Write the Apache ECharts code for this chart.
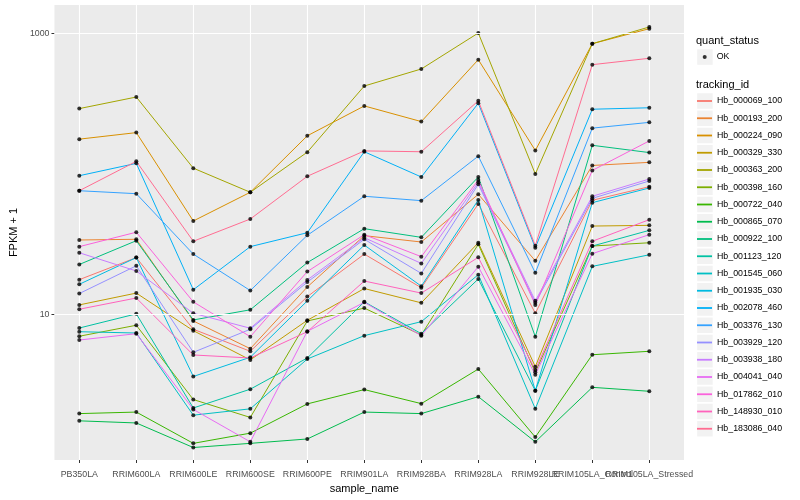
<!DOCTYPE html>
<html><head><meta charset="utf-8">
<script src="https://cdn.jsdelivr.net/npm/echarts@6/dist/echarts.min.js"></script>
<style>html,body{margin:0;padding:0;background:#fff}#c{width:800px;height:500px}</style>
</head><body><div id="c"></div>
<script>
const categories = ['PB350LA','RRIM600LA','RRIM600LE','RRIM600SE','RRIM600PE','RRIM901LA','RRIM928BA','RRIM928LA','RRIM928LE','RRIM105LA_Control','RRIM105LA_Stressed'];
const yTickValues = [10, 1000];
const trackingIds = ['Hb_000069_100','Hb_000193_200','Hb_000224_090','Hb_000329_330','Hb_000363_200','Hb_000398_160','Hb_000722_040','Hb_000865_070','Hb_000922_100','Hb_001123_120','Hb_001545_060','Hb_001935_030','Hb_002078_460','Hb_003376_130','Hb_003929_120','Hb_003938_180','Hb_004041_040','Hb_017862_010','Hb_148930_010','Hb_183086_040'];

const v000069_100 = [17.7, 25.4, 7.85, 5.47, 13.4, 26.9, 15.5, 61.2, 10.2, 65.0, 81.2];
const v000193_200 = [33.9, 34.3, 8.99, 5.71, 15.7, 36.4, 32.8, 71.7, 24.1, 115, 121];
const v000224_090 = [177, 197, 46.3, 74.1, 187, 305, 236, 651, 147, 846, 1082];
const v000329_330 = [11.7, 14.2, 7.67, 4.75, 9.09, 15.3, 12.1, 32.4, 4.25, 42.6, 43.1];
const v000363_200 = [292, 353, 110, 74.1, 143, 423, 559, 1008, 100, 846, 1113];
const v000398_160 = [7.00, 8.38, 2.48, 1.85, 8.99, 11.1, 7.15, 31.6, 3.88, 30.7, 32.4];
const v000722_040 = [1.97, 2.02, 1.21, 1.43, 2.31, 2.92, 2.32, 4.09, 1.34, 5.17, 5.47];
const v000865_070 = [1.75, 1.69, 1.13, 1.21, 1.30, 2.02, 1.97, 2.60, 1.24, 3.03, 2.84];
const v000922_100 = [22.7, 33.5, 9.14, 10.8, 23.4, 40.8, 35.4, 95.2, 6.95, 160, 142];
const v001123_120 = [8.01, 10.1, 2.16, 2.94, 4.90, 12.3, 7.30, 17.9, 2.87, 30.7, 39.7];
const v001545_060 = [7.54, 7.38, 1.92, 2.13, 4.82, 7.07, 8.89, 19.2, 2.13, 22.0, 26.6];
const v001935_030 = [16.4, 25.4, 3.62, 4.96, 12.5, 31.2, 15.9, 65.3, 2.87, 62.5, 79.5];
const v002078_460 = [97.2, 119, 15.0, 30.4, 38.2, 144, 95.2, 319, 29.9, 289, 296];
const v003376_130 = [76.0, 72.4, 26.9, 14.8, 36.6, 69.4, 64.6, 134, 19.8, 212, 233];
const v003929_120 = [14.1, 22.2, 5.38, 7.85, 17.0, 34.3, 19.6, 84.5, 12.1, 67.1, 89.2];
const v003938_180 = [27.5, 20.4, 10.2, 7.98, 17.6, 35.2, 23.1, 87.3, 12.5, 69.4, 92.1];
const v004041_040 = [6.58, 7.30, 2.11, 1.24, 7.59, 12.2, 7.07, 21.9, 3.73, 27.1, 37.0];
const v017862_010 = [30.4, 38.5, 12.3, 6.95, 20.2, 37.0, 25.8, 90.6, 11.7, 106, 172];
const v148930_010 = [10.9, 13.1, 5.15, 4.90, 7.54, 17.3, 14.2, 25.5, 4.03, 33.2, 47.3];
const v183086_040 = [76.0, 123, 33.2, 47.8, 96.3, 146, 144, 332, 30.9, 600, 666];

const seriesValues = [v000069_100, v000193_200, v000224_090, v000329_330, v000363_200, v000398_160, v000722_040, v000865_070, v000922_100, v001123_120, v001545_060, v001935_030, v002078_460, v003376_130, v003929_120, v003938_180, v004041_040, v017862_010, v148930_010, v183086_040];

const palette = ['#F8766D','#EA8331','#D89000','#C09B00','#A3A500','#7CAE00','#39B600','#00BB4E','#00BF7D','#00C1A3','#00BFC4','#00BAE0','#00B0F6','#35A2FF','#9590FF','#C77CFF','#E76BF3','#FA62DB','#FF62BC','#FF6C91'];

const FONT = '"Liberation Sans", Arial, Helvetica, sans-serif';
const Y_MIN = 0.921, Y_MAX = 1595;

const chart = echarts.init(document.getElementById('c'), null, {renderer: 'canvas'});

const lineSeries = trackingIds.map((id, k) => ({
  name: id, type: 'line', xAxisIndex: 1, yAxisIndex: 1,
  data: seriesValues[k], symbol: 'none', silent: true,
  lineStyle: {width: 1, color: palette[k]}, itemStyle: {color: palette[k]}, z: 3
}));

const legendItems = trackingIds.map((id, k) => ({
  name: id, icon: 'path://M0,0H15V1.8H0Z',
  itemStyle: {color: palette[k], borderWidth: 0, opacity: 1}
}));

const pointData = [];
seriesValues.forEach(vals => vals.forEach((v, i) => pointData.push([i, v])));

const keyY0 = 101, keyStep = 17.25;
const graphics = [
  {type: 'text', left: 696, top: 35, style: {text: 'quant_status', font: '11px ' + FONT, fill: '#000'}},
  {type: 'text', left: 696, top: 79, style: {text: 'tracking_id', font: '11px ' + FONT, fill: '#000'}},
  {type: 'rect', shape: {x: 697.2, y: 49.3, width: 15.5, height: 15.5}, style: {fill: '#F2F2F2'}, z: -1}
];
trackingIds.forEach((id, k) => {
  graphics.push({type: 'rect', shape: {x: 697.2, y: keyY0 + k * keyStep - 7.75, width: 15.5, height: 15.5}, style: {fill: '#F2F2F2'}, z: -1});
});

chart.setOption({
  animation: false,
  backgroundColor: '#fff',
  textStyle: {fontFamily: FONT},
  grid: [
    {left: 45, right: 116, top: 5, bottom: 40, show: true, backgroundColor: '#EBEBEB', borderWidth: 0},
    {left: 79.3, right: 150.7, top: 5, bottom: 40}
  ],
  xAxis: [
    {gridIndex: 0, type: 'value', min: 0, max: 1, show: false},
    {gridIndex: 1, type: 'category', data: categories, boundaryGap: false,
     axisLine: {show: false},
     axisTick: {show: true, length: 3, lineStyle: {color: '#333333', width: 1}},
     axisLabel: {interval: 0, color: '#4D4D4D', fontSize: 8.8, fontFamily: FONT, margin: 10},
     splitLine: {show: true, lineStyle: {color: '#FFFFFF', width: 1.1}},
     name: 'sample_name', nameLocation: 'middle', nameGap: 23,
     nameTextStyle: {color: '#000', fontSize: 11, fontFamily: FONT}}
  ],
  yAxis: [
    {gridIndex: 0, type: 'log', logBase: 10, min: Y_MIN, max: Y_MAX,
     axisLine: {show: false},
     axisTick: {show: true, customValues: yTickValues, length: 3, lineStyle: {color: '#333333'}},
     axisLabel: {customValues: yTickValues, formatter: v => String(Math.round(v)), color: '#4D4D4D', fontSize: 8.8, fontFamily: FONT, margin: 5},
     splitLine: {show: true, lineStyle: {color: '#FFFFFF', width: 0.55}},
     name: 'FPKM + 1', nameLocation: 'middle', nameGap: 27, nameRotate: 90,
     nameTextStyle: {color: '#000', fontSize: 11, fontFamily: FONT}},
    {gridIndex: 1, type: 'log', logBase: 10, min: Y_MIN, max: Y_MAX, show: false}
  ],
  legend: [
    {orient: 'vertical', left: 702.7, top: 51, padding: 0, itemWidth: 4, itemHeight: 4, selectedMode: false,
     data: [{name: 'OK', icon: 'circle', itemStyle: {color: '#000', borderWidth: 0}}],
     textStyle: {fontSize: 8.8, lineHeight: 12, color: '#000', fontFamily: FONT, padding: [0, 0, 0, 5]}},
    {orient: 'vertical', left: 697, top: 95, padding: 0, itemWidth: 15, itemHeight: 12, itemGap: 5.25, selectedMode: false,
     data: legendItems, textStyle: {fontSize: 8.8, lineHeight: 12, color: '#000', fontFamily: FONT}}
  ],
  graphic: graphics,
  series: [
    {name: 'major', type: 'line', xAxisIndex: 0, yAxisIndex: 0, data: [], silent: true, z: 1,
     markLine: {silent: true, symbol: 'none', label: {show: false}, animation: false,
       lineStyle: {color: '#FFFFFF', width: 1.1, type: 'solid'},
       data: yTickValues.map(v => ({yAxis: v}))}},
    ...lineSeries,
    {name: 'OK', type: 'scatter', xAxisIndex: 1, yAxisIndex: 1, data: pointData, symbol: 'circle', symbolSize: 4,
     itemStyle: {color: '#000'}, silent: true, z: 4}
  ]
});
</script></body></html>
